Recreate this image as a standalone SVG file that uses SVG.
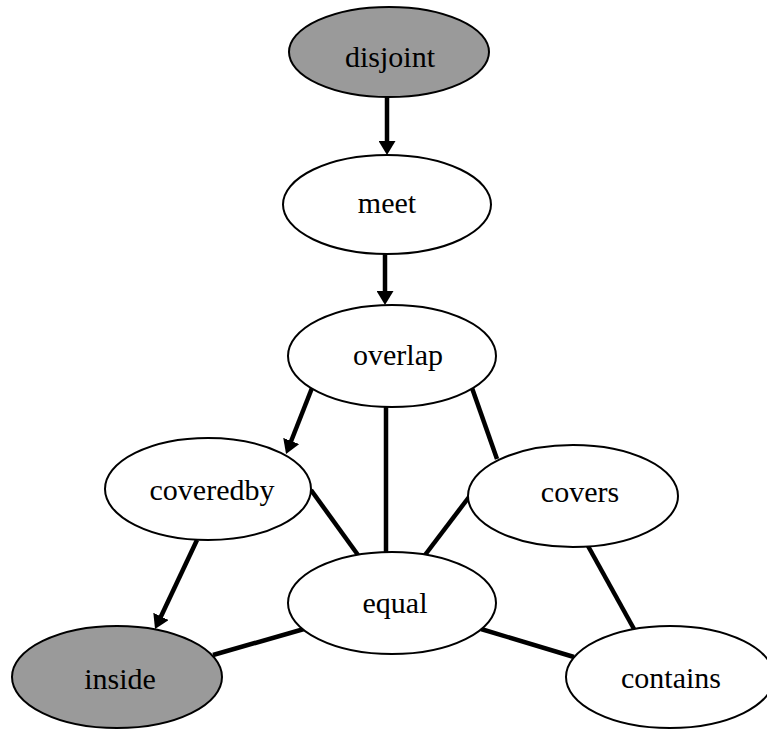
<svg xmlns="http://www.w3.org/2000/svg" width="767" height="730" viewBox="0 0 767 730">
<style>
.n ellipse{fill:#fff;stroke:#000;stroke-width:2}
.g ellipse{fill:#9a9a9a}
text{font-family:"Liberation Serif","Times New Roman",serif;font-size:30px;fill:#000;text-anchor:middle}
.e line{stroke:#000;stroke-width:4.5}
</style>
<defs>
<marker id="ah" markerUnits="userSpaceOnUse" markerWidth="14" markerHeight="17" viewBox="0 0 14 17" refX="4" refY="8.5" orient="auto">
<path d="M0,0 L14,8.5 L0,17 Z" fill="#000"/>
</marker>
</defs>
<g class="e">
<line x1="387" y1="97" x2="387" y2="145" marker-end="url(#ah)"/>
<line x1="385" y1="254" x2="385" y2="295" marker-end="url(#ah)"/>
<line x1="312" y1="388" x2="289.7" y2="444.7" marker-end="url(#ah)"/>
<line x1="386" y1="406" x2="386" y2="553"/>
<line x1="472" y1="388" x2="497" y2="459"/>
<line x1="311" y1="490" x2="358" y2="555"/>
<line x1="469" y1="497" x2="425" y2="555"/>
<line x1="197" y1="540" x2="159.3" y2="620" marker-end="url(#ah)"/>
<line x1="304" y1="629" x2="213" y2="655"/>
<line x1="481" y1="629" x2="574" y2="657"/>
<line x1="588" y1="546" x2="634" y2="629"/>
</g>
<g id="disjoint" class="n g"><ellipse cx="389" cy="52" rx="100" ry="45"/><text x="390" y="67">disjoint</text></g>
<g id="meet" class="n"><ellipse cx="387" cy="204.5" rx="104" ry="49.5"/><text x="387" y="213">meet</text></g>
<g id="overlap" class="n"><ellipse cx="392" cy="356" rx="104" ry="51"/><text x="398" y="365">overlap</text></g>
<g id="coveredby" class="n"><ellipse cx="208" cy="489" rx="103" ry="51"/><text x="212" y="500">coveredby</text></g>
<g id="covers" class="n"><ellipse cx="573" cy="496" rx="105" ry="51"/><text x="580" y="502">covers</text></g>
<g id="equal" class="n"><ellipse cx="392" cy="603" rx="104" ry="51"/><text x="395" y="613">equal</text></g>
<g id="inside" class="n g"><ellipse cx="117" cy="677" rx="105" ry="51"/><text x="120" y="689">inside</text></g>
<g id="contains" class="n"><ellipse cx="670" cy="677" rx="104" ry="51"/><text x="671" y="688">contains</text></g>
</svg>
